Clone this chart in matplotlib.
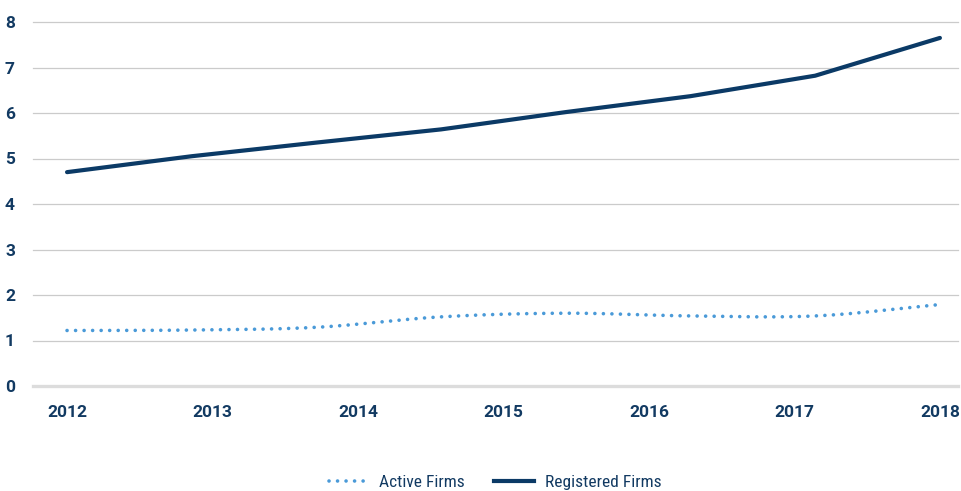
import numpy as np
import matplotlib
matplotlib.use("Agg")
import matplotlib.pyplot as plt
from matplotlib.lines import Line2D
from matplotlib import font_manager

# Series values (eight observations each), plotted against evenly spaced positions
active_firms = [1.22, 1.23, 1.29, 1.52, 1.60, 1.54, 1.54, 1.79]
registered_firms = [4.70, 5.05, 5.35, 5.64, 6.02, 6.37, 6.82, 7.65]
year_labels = ["2012", "2013", "2014", "2015", "2016", "2017", "2018"]
y_ticks = [0, 1, 2, 3, 4, 5, 6, 7, 8]

NAVY = "#0b3a66"
LIGHT_BLUE = "#4a9ad8"
TEXT = "#123a62"

# Prefer a condensed face for the legend when one is installed
installed = {f.name for f in font_manager.fontManager.ttflist}
legend_family = next((f for f in ["Liberation Sans Narrow", "Roboto Condensed",
                                  "Open Sans Condensed", "Roboto"] if f in installed),
                     "DejaVu Sans")
legend_size = 12.5 if legend_family != "Roboto" else 11


def smooth(y, samples=30):
    """Catmull-Rom curve through the points (like a spreadsheet 'smoothed line')."""
    y = np.asarray(y, dtype=float)
    x = np.arange(len(y), dtype=float)
    px = np.concatenate([[2 * x[0] - x[1]], x, [2 * x[-1] - x[-2]]])
    py = np.concatenate([[2 * y[0] - y[1]], y, [2 * y[-1] - y[-2]]])
    xs, ys = [], []
    t = np.linspace(0, 1, samples, endpoint=False)
    for i in range(1, len(px) - 2):
        p0, p1, p2, p3 = (np.array([px[j], py[j]]) for j in range(i - 1, i + 3))
        b1 = p1 + (p2 - p0) / 6
        b2 = p2 - (p3 - p1) / 6
        pts = ((1 - t) ** 3)[:, None] * p1 + (3 * (1 - t) ** 2 * t)[:, None] * b1 \
            + (3 * (1 - t) * t ** 2)[:, None] * b2 + (t ** 3)[:, None] * p2
        xs.append(pts[:, 0])
        ys.append(pts[:, 1])
    xs.append([x[-1]])
    ys.append([y[-1]])
    return np.concatenate(xs), np.concatenate(ys)


fig = plt.figure(figsize=(9.61, 4.91), dpi=100)
ax = fig.add_axes([33 / 961, 105 / 491, (958 - 33) / 961, (386 - 22) / 491])

n = len(registered_firms)
ax.set_xlim(-0.273, (n - 1) + 0.145)
ax.set_ylim(0, 8)

# Horizontal gridlines, with a heavier baseline at zero
for v in y_ticks:
    if v == 0:
        ax.axhline(v, color="#dcdcdc", lw=2.4, zorder=1, clip_on=False)
    else:
        ax.axhline(v, color="#cbcbcb", lw=0.9, zorder=1, clip_on=False)

xa, ya = smooth(active_firms)
ax.plot(xa, ya, color=LIGHT_BLUE, lw=2.6, linestyle=(0, (0.01, 2.35)),
        dash_capstyle="round", zorder=3)
ax.plot(np.arange(n), registered_firms, color=NAVY, lw=3.0,
        solid_capstyle="round", solid_joinstyle="round", zorder=4)

for s in ax.spines.values():
    s.set_visible(False)

ax.set_yticks(y_ticks)
ax.set_yticklabels([str(v) for v in y_ticks])
ax.set_xticks(np.linspace(0, n - 1, len(year_labels)))
ax.set_xticklabels(year_labels)
ax.tick_params(axis="both", length=0, labelcolor=TEXT)
ax.tick_params(axis="y", pad=13)
ax.tick_params(axis="x", pad=14)
for lab in ax.get_xticklabels() + ax.get_yticklabels():
    lab.set_fontfamily(["Roboto", "DejaVu Sans"])
    lab.set_fontweight("bold")
    lab.set_fontsize(12.5)

handles = [
    Line2D([], [], color=LIGHT_BLUE, lw=2.6, linestyle=(0, (0.01, 2.35)),
           dash_capstyle="round"),
    Line2D([], [], color=NAVY, lw=3.0),
]
leg = fig.legend(handles, ["Active Firms", "Registered Firms"], loc="center",
                 bbox_to_anchor=(0.515, 0.018), ncol=2, frameon=False,
                 handlelength=2.3, handletextpad=0.6, columnspacing=1.7,
                 prop={"family": [legend_family, "DejaVu Sans"], "size": legend_size})
for t in leg.get_texts():
    t.set_color(TEXT)

fig.savefig("out.png", dpi=100)
